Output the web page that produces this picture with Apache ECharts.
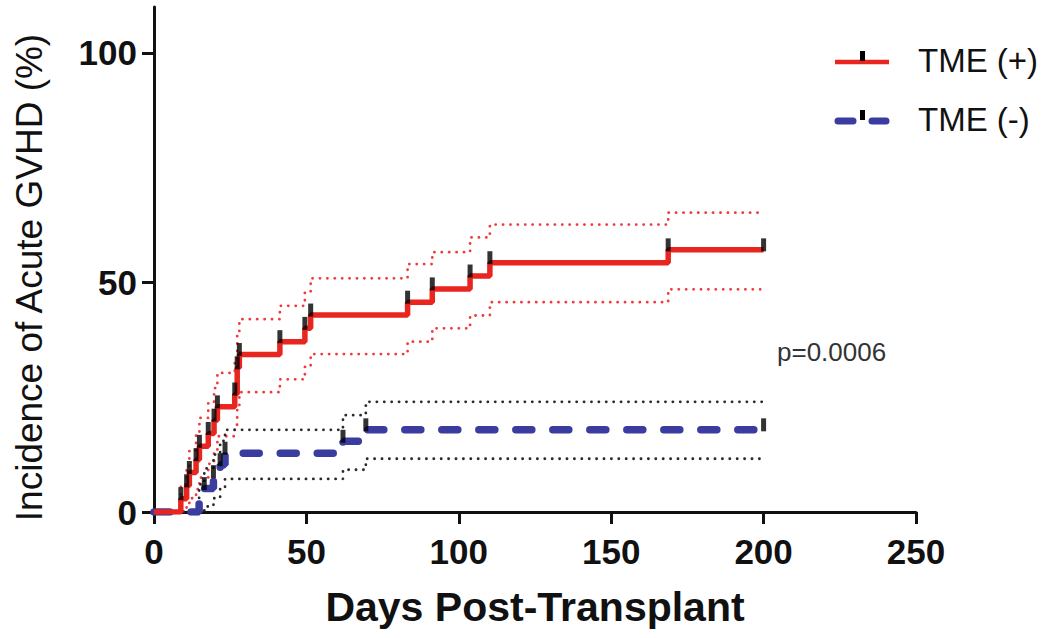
<!DOCTYPE html>
<html>
<head>
<meta charset="utf-8">
<script src="https://cdn.jsdelivr.net/npm/echarts@6/dist/echarts.min.js"></script>
<style>
  html, body { margin: 0; padding: 0; background: #ffffff; }
  #chart { width: 1050px; height: 638px; }
</style>
</head>
<body>
<div id="chart"></div>
<script>
// ---- data ----
const xTicks = [0, 50, 100, 150, 200, 250];
const yTicks = [0, 50, 100];

// TME (+) cumulative incidence (step function, % at each event day)
const posDays      = [0, 8.8, 10.7, 11.6, 13.8, 14.9, 17.8, 19.7, 20.8, 26.5, 27.3, 28.0, 41.3, 49.5, 51.4, 83.2, 91.3, 103.7, 110.2, 168.7, 200];
const posIncidence = [0, 2.9, 5.7,  8.6,  11.4, 14.3, 17.1, 20.0, 22.9, 25.7, 31.4, 34.3, 37.1, 40.0, 42.9, 45.7, 48.6, 51.4,  54.3,  57.1,  57.1];
const posUpper     = [0, 6.0, 10.0, 13.5, 17.0, 20.5, 24.0, 27.0, 30.3, 33.0, 38.5, 42.0, 44.9, 47.8, 50.9, 54.0, 56.6, 59.8,  62.6,  65.2,  65.2];
const posLower     = [0, 0.4, 1.5,  3.0,  5.0,  7.5,  10.5, 13.0, 16.5, 19.0, 23.0, 26.1, 28.9, 31.6, 34.4, 37.1, 40.0, 42.8,  45.7,  48.5,  48.5];
// censor / event tick marks on TME (+)
const posTickDays  = [8.8, 10.7, 11.6, 13.8, 14.9, 17.8, 19.7, 20.8, 26.5, 27.3, 28.0, 41.3, 49.5, 51.4, 83.2, 91.3, 103.7, 110.2, 168.7, 200];
const posTickVals  = [2.9, 5.7,  8.6,  11.4, 14.3, 17.1, 20.0, 22.9, 25.7, 31.4, 34.3, 37.1, 40.0, 42.9, 45.7, 48.6, 51.4,  54.3,  57.1,  57.1];

// TME (-)
const negDays      = [0, 14.8, 16.5, 19.5, 21.7, 23.3, 62.0, 69.5, 200];
const negIncidence = [0, 2.6,  5.1,  7.7,  10.3, 12.8, 15.4, 17.9, 17.9];
const negUpper     = [0, 6.0,  9.5,  12.5, 15.5, 17.9, 21.1, 24.0, 24.0];
const negLower     = [0, 0.3,  1.2,  3.0,  5.0,  7.2,  9.2,  11.6, 11.6];
const negTickDays  = [16.5, 19.5, 21.7, 23.3, 62.0, 69.5, 200];
const negTickVals  = [5.1,  7.7,  10.3, 12.8, 15.4, 17.9, 17.9];

const pText = 'p=0.0006';

// ---- chart ----
const FONT = '"Liberation Sans", Arial, sans-serif';
const RED = '#e8261f';
const BLUE = '#3a3d9f';
const pairs = (xs, ys) => xs.map((x, i) => [x, ys[i]]);

const chart = echarts.init(document.getElementById('chart'), null, { renderer: 'svg' });

const dotted = (color) => ({ color: color, width: 2.8, type: [0.1, 7.3], cap: 'round' });

const option = {
  animation: false,
  backgroundColor: '#ffffff',
  grid: { left: 154, right: 134, top: 7, bottom: 126, containLabel: false },
  xAxis: {
    type: 'value', min: 0, max: 250, interval: 50,
    name: 'Days Post-Transplant', nameLocation: 'middle', nameGap: 74,
    nameTextStyle: { fontFamily: FONT, fontSize: 41, fontWeight: 'bold', color: '#111' },
    axisLine: { show: true, onZero: false, lineStyle: { color: '#111', width: 3 } },
    axisTick: { show: true, length: 12, lineStyle: { color: '#111', width: 3 } },
    axisLabel: { margin: 22, fontFamily: FONT, fontSize: 35, fontWeight: 'bold', color: '#111', customValues: xTicks },
    splitLine: { show: false }
  },
  yAxis: {
    type: 'value', min: 0, max: 110, interval: 50,
    name: 'Incidence of Acute GVHD (%)', nameLocation: 'middle', nameGap: 106,
    nameTextStyle: { fontFamily: FONT, fontSize: 37, color: '#111', padding: [0, 36, 0, 0] },
    axisLine: { show: true, onZero: false, lineStyle: { color: '#111', width: 3 } },
    axisTick: { show: true, length: 12, lineStyle: { color: '#111', width: 3 }, customValues: yTicks },
    axisLabel: { margin: 17, fontFamily: FONT, fontSize: 35, fontWeight: 'bold', color: '#111', customValues: yTicks },
    splitLine: { show: false }
  },
  series: [
    { name: 'TME (+) upper', type: 'line', step: 'end', showSymbol: false, data: pairs(posDays, posUpper), lineStyle: dotted('#ee3c3c'), z: 2 },
    { name: 'TME (+) lower', type: 'line', step: 'end', showSymbol: false, data: pairs(posDays, posLower), lineStyle: dotted('#ee3c3c'), z: 2 },
    { name: 'TME (-) upper', type: 'line', step: 'end', showSymbol: false, data: pairs(negDays, negUpper), lineStyle: dotted('#2a2a2a'), z: 2 },
    { name: 'TME (-) lower', type: 'line', step: 'end', showSymbol: false, data: pairs(negDays, negLower), lineStyle: dotted('#2a2a2a'), z: 2 },
    { name: 'TME (-)', type: 'line', step: 'end', showSymbol: false, data: pairs(negDays, negIncidence),
      lineStyle: { color: BLUE, width: 7.5, type: [16, 21], cap: 'round' }, z: 3 },
    { name: 'TME (+)', type: 'line', step: 'end', showSymbol: false, data: pairs(posDays, posIncidence),
      lineStyle: { color: RED, width: 5.5 }, z: 4 },
    { name: 'TME (+) ticks', type: 'scatter', data: pairs(posTickDays, posTickVals), symbol: 'rect',
      symbolSize: [5, 13], symbolOffset: [0, -5], itemStyle: { color: '#000' }, z: 5 },
    { name: 'TME (-) ticks', type: 'scatter', data: pairs(negTickDays, negTickVals), symbol: 'rect',
      symbolSize: [5, 13], symbolOffset: [0, -5], itemStyle: { color: '#000' }, z: 5 }
  ],
  graphic: [
    // legend: TME (+)
    { type: 'line', shape: { x1: 835, y1: 62, x2: 889, y2: 62 }, style: { stroke: RED, lineWidth: 4.5 }, z: 10 },
    { type: 'rect', shape: { x: 860, y: 51, width: 5, height: 10 }, style: { fill: '#000' }, z: 11 },
    { type: 'text', left: 918, top: 44, style: { text: 'TME (+)', font: '33px ' + FONT, fill: '#111' }, z: 10 },
    // legend: TME (-)
    { type: 'line', shape: { x1: 838, y1: 121, x2: 853, y2: 121 }, style: { stroke: BLUE, lineWidth: 7, lineCap: 'round' }, z: 10 },
    { type: 'line', shape: { x1: 872, y1: 121, x2: 886, y2: 121 }, style: { stroke: BLUE, lineWidth: 7, lineCap: 'round' }, z: 10 },
    { type: 'rect', shape: { x: 860, y: 110, width: 5, height: 10 }, style: { fill: '#000' }, z: 11 },
    { type: 'text', left: 918, top: 103, style: { text: 'TME (-)', font: '33px ' + FONT, fill: '#111' }, z: 10 },
    // p-value
    { type: 'text', left: 777, top: 339, style: { text: pText, font: '26px ' + FONT, fill: '#333' }, z: 10 }
  ]
};

chart.setOption(option);
</script>
</body>
</html>
